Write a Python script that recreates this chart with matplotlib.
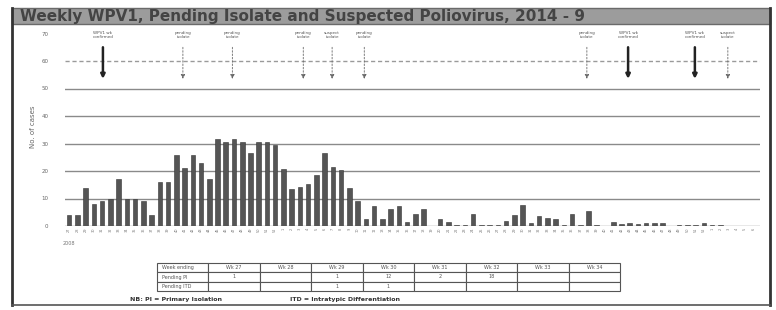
import matplotlib
matplotlib.use("Agg")
import matplotlib.pyplot as plt
from matplotlib.patches import Rectangle
import numpy as np

title = "Weekly WPV1, Pending Isolate and Suspected Poliovirus, 2014 - 9"

# weekly case counts
weeks = [str((26 + i) % 52 + 1) for i in range(84)]
cases = [4, 4, 14, 8, 9, 10, 17, 10, 10, 9, 4, 16, 16, 26, 21, 26, 23, 17,
         31.5, 30.7, 31.5, 30.5, 26.7, 30.5, 30.5, 29.5, 20.6, 13.5, 14.3, 15.3,
         18.5, 26.4, 21.6, 20.4, 14, 9.2, 2.4, 7.3, 2.4, 6.2, 7.3, 1.5, 4.5, 6.2,
         0, 2.4, 1.5, 0.5, 0.5, 4.4, 0.5, 0.5, 0.5, 2, 4, 7.5, 1, 3.6, 2.8, 2.5,
         0.3, 4.4, 0.5, 5.6, 0.3, 0, 1.3, 0.7, 1, 0.8, 1, 1, 1, 0, 0.5, 0.5, 0.5,
         1, 0.5, 0.4, 0, 0, 0, 0]

# event markers above the bars
wpv_weeks = [4.1, 67.8, 75.9]
wpv_labels = ["WPV1 wk\nconfirmed", "WPV1 wk\nconfirmed", "WPV1 wk\nconfirmed"]
susp_weeks = [13.8, 19.8, 28.4, 31.9, 35.8, 62.8, 79.9]
susp_labels = ["pending\nisolate", "pending\nisolate", "pending\nisolate",
               "suspect\nisolate", "pending\nisolate", "pending\nisolate", "suspect\nisolate"]

# table under the chart
tbl_cols = ["Week ending", "Wk 27", "Wk 28", "Wk 29", "Wk 30", "Wk 31", "Wk 32", "Wk 33", "Wk 34"]
tbl_pi = ["Pending PI", "1", "", "1", "12", "2", "18", "", ""]
tbl_itd = ["Pending ITD", "", "", "1", "1", "", "", "", ""]

W, H = 776, 310
fig = plt.figure(figsize=(W / 100, H / 100), dpi=100)
fig.patch.set_facecolor("white")

def fx(px):
    return px / W

def fy(py):
    return 1 - py / H

# frame + title bar
fig.add_artist(Rectangle((fx(12), fy(24)), fx(770) - fx(12), fy(8) - fy(24),
                         transform=fig.transFigure, facecolor="#9c9c9c", edgecolor="#6a6a6a", lw=1))
fig.add_artist(plt.Line2D([fx(12), fx(12)], [fy(305), fy(8)], color="#333333", lw=2))
fig.add_artist(plt.Line2D([fx(770), fx(770)], [fy(305), fy(8)], color="#333333", lw=2))
fig.add_artist(plt.Line2D([fx(12), fx(770)], [fy(305), fy(305)], color="#555555", lw=1.2))
fig.text(fx(20), fy(16), title, fontsize=11, fontweight="bold", color="#444444",
         ha="left", va="center")

# main chart
x0, x1, ybase, ytop = 65, 760, 226, 28
ax = fig.add_axes([fx(x0), fy(ybase), fx(x1) - fx(x0), fy(ytop) - fy(ybase)])
x = np.arange(len(cases))
ax.bar(x, cases, width=0.55, color="#555555", edgecolor="#333333", lw=0.4, zorder=3)
ax.set_xlim(-0.5, 83.8)
ax.set_ylim(0, 72)
for v in range(0, 60, 10):
    ax.axhline(v, color="#8a8a8a", lw=1, zorder=1)
ax.axhline(60, color="#9a9a9a", lw=1, ls=(0, (3, 2)), zorder=1)
ax.set_yticks(range(0, 80, 10))
ax.set_yticklabels([str(v) for v in range(0, 80, 10)], fontsize=4, color="#666666")
ax.tick_params(axis="y", length=0, pad=12)
ax.set_xticks(x)
ax.set_xticklabels(weeks, fontsize=2.5, color="#777777", rotation=90)
ax.tick_params(axis="x", length=0, pad=1)
for s in ax.spines.values():
    s.set_visible(False)
ax.set_ylabel("No. of cases", fontsize=5, color="#666666", labelpad=4)
ax.text(0, -5.5, "2008", fontsize=3.5, color="#777777", ha="center", va="top")

for wk, lab in zip(wpv_weeks, wpv_labels):
    ax.annotate("", xy=(wk, 52.5), xytext=(wk, 66),
                arrowprops=dict(arrowstyle="-|>", color="#222222", lw=1.8, mutation_scale=6))
    ax.text(wk, 69.5, lab, fontsize=3, color="#555555", ha="center", va="center", clip_on=False)
for wk, lab in zip(susp_weeks, susp_labels):
    ax.annotate("", xy=(wk, 52.5), xytext=(wk, 66),
                arrowprops=dict(arrowstyle="-|>", color="#666666", lw=0.6, ls=(0, (2, 2)),
                                mutation_scale=6))
    ax.text(wk, 69.5, lab, fontsize=3, color="#555555", ha="center", va="center", clip_on=False)

# table
tax = fig.add_axes([fx(157), fy(291), fx(620) - fx(157), fy(263) - fy(291)])
tax.axis("off")
tb = tax.table(cellText=[tbl_cols, tbl_pi, tbl_itd], cellLoc="center", bbox=[0, 0, 1, 1])
tb.auto_set_font_size(False)
tb.set_fontsize(3.5)
for (r, c), cell in tb.get_celld().items():
    cell.set_edgecolor("#555555")
    cell.set_linewidth(0.8)
    cell.get_text().set_color("#555555")
    if c == 0:
        cell.get_text().set_ha("left")

fig.text(fx(130), fy(300), "NB: PI = Primary Isolation", fontsize=4.5, color="#333333",
         fontweight="bold", va="center")
fig.text(fx(290), fy(300), "ITD = Intratypic Differentiation", fontsize=4.5, color="#333333",
         fontweight="bold", va="center")

fig.savefig("out.png", dpi=100)
